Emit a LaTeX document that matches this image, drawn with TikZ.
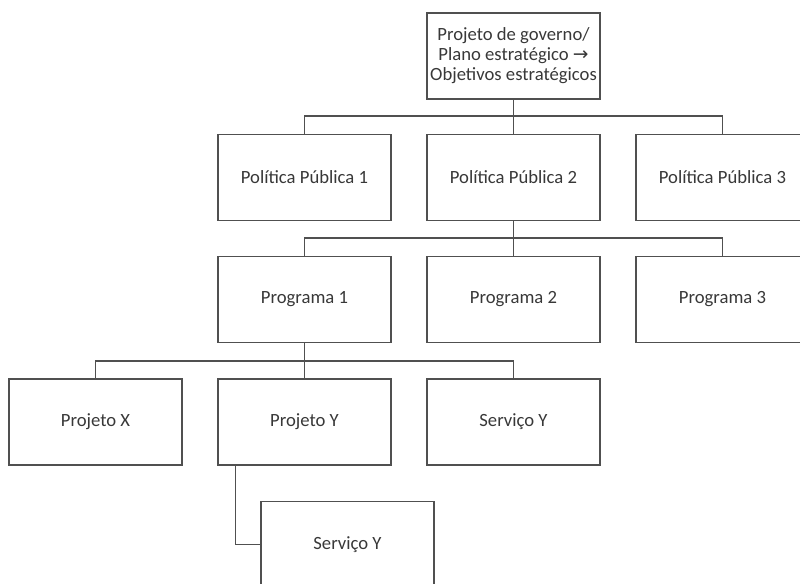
\documentclass[tikz,border=0pt]{standalone}
\usepackage{fontspec}
\setmainfont{Carlito}
\newfontfamily\arrowfont{DejaVu Sans}
\usepackage{tikz}
\usetikzlibrary{calc}
\definecolor{boxline}{HTML}{505050}
\definecolor{boxtext}{HTML}{383838}
\tikzset{box/.style={rectangle, minimum width=129.75pt, minimum height=64.5pt, text centered, draw=boxline, line width=1pt, text=boxtext, font=\fontsize{14}{15}\selectfont},link/.style={-,draw=boxline,line width=1pt}}

\begin{document}
\begin{tikzpicture} [x=0.75pt,y=-0.75pt,align=center]
\useasboundingbox (0,0) rectangle (800,583);
%top
\node (top) at (513.5,56)[box,inner sep=1pt]{Projeto de governo/\\Plano estrat\'egico {\arrowfont\fontsize{14}{15}\selectfont →}\\Objetivos estrat\'egicos};

%politicas
\node (pp1) at (304.5,177.5)[box]{Pol\'itica P\'ublica 1};
\node (pp2) at (513.5,177.5)[box]{Pol\'itica P\'ublica 2};
\node (pp3) at (722.5,177.5)[box]{Pol\'itica P\'ublica 3};
\coordinate (b1) at (513.5,116);
\draw[link] (top.south) -- (pp2.north);
\draw[link] (pp1.north) |- (b1) -| (pp3.north);

%programas
\node (prog1) at (304.5,299.5)[box]{Programa 1};
\node (prog2) at (513.5,299.5)[box]{Programa 2};
\node (prog3) at (722.5,299.5)[box]{Programa 3};
\coordinate (b2) at (513.5,238);
\draw[link] (pp2.south) -- (prog2.north);
\draw[link] (prog1.north) |- (b2) -| (prog3.north);

%projetos
\node (projx) at (95.5,422)[box]{Projeto X};
\node (projy) at (304.5,422)[box]{Projeto Y};
\node (servy) at (513.5,422)[box]{Servi\c{c}o Y};
\coordinate (b3) at (304.5,361);
\draw[link] (prog1.south) -- (projy.north);
\draw[link] (projx.north) |- (b3) -| (servy.north);

%servico
\node (servy2) at (347.5,544.5)[box]{Servi\c{c}o Y};
\draw[link] ([xshift=13.5pt]projy.south west) |- (servy2.west);

\end{tikzpicture}
\end{document}
